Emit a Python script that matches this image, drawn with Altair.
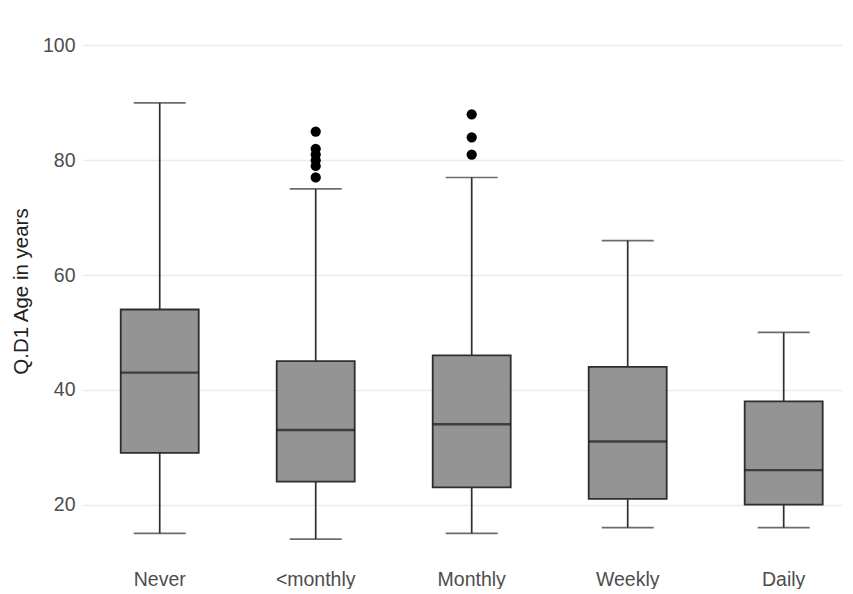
import altair as alt
import pandas as pd

categories = ["Never", "<monthly", "Monthly", "Weekly", "Daily"]
lower = [15, 14, 15, 16, 16]
q1 = [29, 24, 23, 21, 20]
median = [43, 33, 34, 31, 26]
q3 = [54, 45, 46, 44, 38]
upper = [90, 75, 77, 66, 50]

outlier_cat = ["<monthly"] * 6 + ["Monthly"] * 3
outlier_val = [77, 79, 80, 81, 82, 85, 81, 84, 88]

y_ticks = [20, 40, 60, 80, 100]

summary = pd.DataFrame({
    "cat": categories, "lower": lower, "q1": q1,
    "median": median, "q3": q3, "upper": upper,
})
outliers = pd.DataFrame({"cat": outlier_cat, "val": outlier_val})

STROKE = "#2e2e2e"
FONT = "Liberation Sans"

x_enc = alt.X("cat:N", sort=categories,
              scale=alt.Scale(paddingInner=0.5, paddingOuter=0.186, align=0.65),
              axis=alt.Axis(title=None, labelAngle=0, labelFontSize=19.5, labelColor="#4d4d4d",
                            labelFont=FONT, ticks=False, domain=False, grid=False,
                            labelPadding=8))
y_scale = alt.Scale(domain=[10, 102], nice=False, zero=False)
y_axis = alt.Axis(title="Q.D1 Age in years", values=y_ticks, titleFontSize=20.5,
                  titleFont=FONT, titleFontWeight="normal", titleColor="#222222",
                  titleY=257,
                  labelFontSize=19.5, labelFont=FONT, labelColor="#4d4d4d",
                  ticks=False, domain=False, grid=True, gridColor="#ebebeb",
                  gridWidth=1.5, labelPadding=8, titlePadding=11)

base = alt.Chart(summary)

whisk_low = base.mark_rule(color=STROKE, strokeWidth=1.7).encode(
    x=x_enc, y=alt.Y("lower:Q", scale=y_scale, axis=y_axis), y2="q1:Q")
whisk_high = base.mark_rule(color=STROKE, strokeWidth=1.7).encode(
    x=x_enc, y=alt.Y("q3:Q"), y2="upper:Q")
box = base.mark_bar(size=78, color="#949494", stroke=STROKE, strokeWidth=1.8).encode(
    x=x_enc, y=alt.Y("q1:Q"), y2="q3:Q")
med = base.mark_tick(size=78, thickness=2.3, color="#1a1a1a").encode(
    x=x_enc, y=alt.Y("median:Q"))
cap_low = base.mark_tick(size=52, thickness=1.7, color=STROKE).encode(
    x=x_enc, y=alt.Y("lower:Q"))
cap_high = base.mark_tick(size=52, thickness=1.7, color=STROKE).encode(
    x=x_enc, y=alt.Y("upper:Q"))
dots = alt.Chart(outliers).mark_circle(size=105, color="black", opacity=1).encode(
    x=x_enc, y=alt.Y("val:Q"))

chart = alt.layer(whisk_low, whisk_high, box, med, cap_low, cap_high, dots).properties(
    width=760, height=528,
    padding={"left": 3, "top": 26, "right": 0, "bottom": 0},
).configure_view(stroke=None)

chart.save("out.html", embed_options={"renderer": "svg", "actions": False})
